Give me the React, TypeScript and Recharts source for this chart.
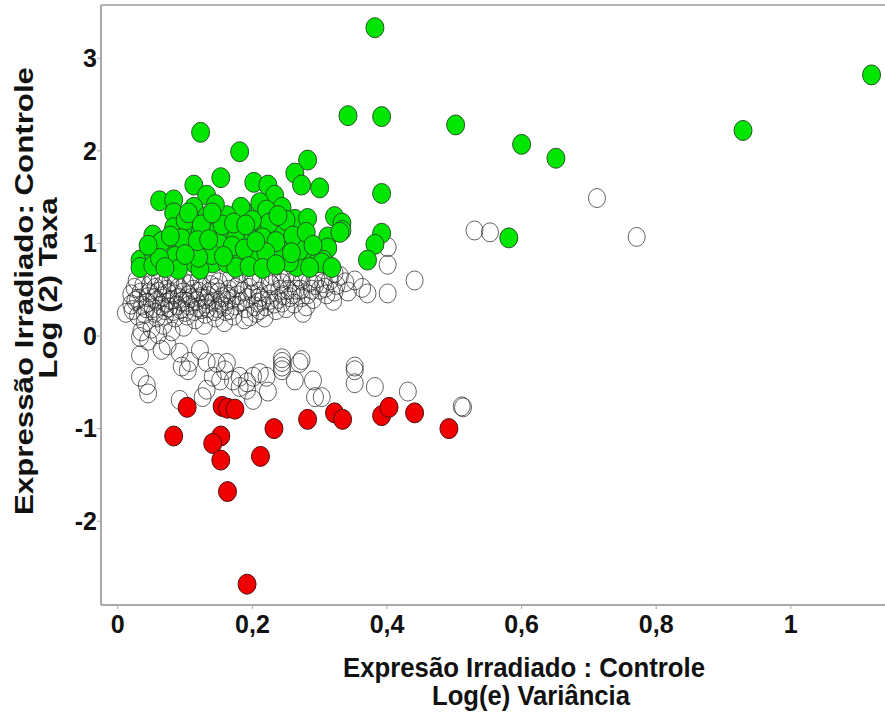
import { ScatterChart, Scatter, XAxis, YAxis, ReferenceLine, Label } from "recharts";

// tick positions
const xTicks = [0, 0.2, 0.4, 0.6, 0.8, 1];
const yTicks = [-2, -1, 0, 1, 2, 3];

// up-regulated (green), [log(e) variance, log2 ratio]
const upPoints: [number, number][] = [
  [0.382, 3.33], [1.12, 2.82], [0.342, 2.38], [0.392, 2.37], [0.502, 2.28], [0.929, 2.22],
  [0.123, 2.2], [0.6, 2.07], [0.651, 1.92], [0.181, 1.99], [0.282, 1.9], [0.263, 1.76],
  [0.273, 1.63], [0.3, 1.6], [0.392, 1.54], [0.581, 1.06], [0.153, 1.71], [0.113, 1.63],
  [0.392, 1.11], [0.382, 0.99], [0.371, 0.82], [0.202, 1.66], [0.223, 1.63], [0.233, 1.52],
  [0.244, 1.39], [0.211, 1.44], [0.186, 1.36], [0.221, 1.36], [0.263, 1.26], [0.282, 1.27],
  [0.322, 1.29], [0.333, 1.22], [0.333, 1.14], [0.312, 1.07], [0.312, 0.95], [0.305, 0.82],
  [0.23, 1.11], [0.201, 1.14], [0.192, 1.06], [0.211, 0.96], [0.244, 1.0], [0.244, 0.91],
  [0.267, 0.95], [0.273, 0.82], [0.285, 0.82], [0.296, 0.79], [0.226, 0.79], [0.201, 0.85],
  [0.184, 0.82], [0.266, 0.75], [0.132, 1.52], [0.062, 1.46], [0.083, 1.47], [0.113, 1.39],
  [0.083, 1.33], [0.132, 1.29], [0.183, 1.39], [0.162, 1.3], [0.052, 1.09], [0.083, 1.17],
  [0.103, 1.12], [0.122, 1.11], [0.144, 1.11], [0.162, 1.14], [0.192, 1.11], [0.033, 0.82],
  [0.052, 0.9], [0.073, 0.93], [0.092, 0.93], [0.113, 0.96], [0.132, 0.93], [0.162, 0.93],
  [0.073, 0.79], [0.092, 0.79], [0.113, 0.79], [0.141, 0.79], [0.162, 0.79], [0.181, 0.8],
  [0.033, 0.74], [0.052, 0.76], [0.122, 0.72], [0.27, 0.93], [0.303, 0.79], [0.241, 0.93],
  [0.207, 0.82], [0.245, 1.14], [0.33, 1.12], [0.1, 1.25], [0.145, 1.42], [0.065, 1.02],
  [0.095, 1.05], [0.15, 1.0], [0.175, 1.05], [0.085, 0.86], [0.14, 0.88], [0.225, 1.22],
  [0.25, 1.25], [0.2, 1.25], [0.12, 0.85], [0.175, 0.74], [0.255, 0.8], [0.09, 0.72],
  [0.105, 1.33], [0.124, 1.2], [0.155, 1.2], [0.172, 1.22], [0.14, 1.33], [0.118, 1.03],
  [0.135, 1.04], [0.17, 0.97], [0.188, 0.94], [0.215, 1.06], [0.235, 1.02], [0.26, 1.08],
  [0.28, 1.12], [0.29, 0.98], [0.258, 0.9], [0.22, 0.9], [0.195, 0.75], [0.215, 0.73],
  [0.235, 0.77], [0.1, 0.88], [0.062, 0.84], [0.045, 0.98], [0.078, 1.08], [0.157, 0.86],
  [0.285, 0.74], [0.318, 0.74], [0.205, 1.02], [0.238, 1.3], [0.19, 1.2], [0.07, 0.74],
];

// down-regulated (red)
const downPoints: [number, number][] = [
  [0.103, -0.77], [0.083, -1.08], [0.155, -0.76], [0.163, -0.78], [0.174, -0.79],
  [0.153, -1.08], [0.141, -1.16], [0.153, -1.34], [0.163, -1.68], [0.192, -2.68],
  [0.212, -1.3], [0.232, -1.0], [0.282, -0.9], [0.322, -0.83], [0.334, -0.9],
  [0.392, -0.86], [0.403, -0.77], [0.441, -0.83], [0.492, -1.0],
];

// not significant (hollow)
const flatPoints: [number, number][] = [
  [0.712, 1.49], [0.771, 1.07], [0.53, 1.14], [0.553, 1.12], [0.511, -0.76], [0.441, 0.6],
  [0.401, 0.96], [0.401, 0.77], [0.401, 0.46], [0.371, 0.46], [0.363, 0.52], [0.352, 0.6],
  [0.342, 0.48], [0.322, 0.48], [0.322, 0.68], [0.308, 0.52], [0.293, 0.55], [0.273, 0.6],
  [0.273, 0.42], [0.275, 0.25], [0.253, 0.68], [0.253, 0.5], [0.244, 0.57], [0.244, 0.36],
  [0.226, 0.57], [0.226, 0.39], [0.211, 0.42], [0.211, 0.28], [0.201, 0.6], [0.196, 0.21],
  [0.244, -0.24], [0.244, -0.33], [0.273, -0.26], [0.352, -0.33],
  [0.033, -0.01], [0.033, -0.21], [0.033, -0.44], [0.043, -0.53], [0.045, -0.62],
  [0.065, -0.15], [0.074, -0.1], [0.092, -0.18], [0.095, -0.33], [0.107, -0.28],
  [0.104, -0.37], [0.122, -0.15], [0.132, -0.28], [0.147, -0.29], [0.162, -0.29],
  [0.159, -0.37], [0.141, -0.44], [0.152, -0.48], [0.132, -0.58], [0.126, -0.66],
  [0.092, -0.69], [0.171, -0.48], [0.181, -0.44], [0.192, -0.5], [0.201, -0.44],
  [0.211, -0.4], [0.221, -0.44], [0.192, -0.58], [0.181, -0.55], [0.201, -0.69],
  [0.223, -0.6], [0.244, -0.28], [0.244, -0.37], [0.27, -0.29], [0.263, -0.48],
  [0.29, -0.48], [0.293, -0.66], [0.303, -0.66], [0.352, -0.37], [0.352, -0.51],
  [0.382, -0.55], [0.431, -0.6], [0.513, -0.77],
  [0.012, 0.25], [0.02, 0.34], [0.02, 0.45], [0.025, 0.52], [0.03, 0.22], [0.03, 0.4], [0.028, 0.6],
  [0.04, 0.15], [0.042, 0.3], [0.045, 0.42], [0.048, 0.55], [0.05, 0.65], [0.055, 0.25],
  [0.058, 0.38], [0.06, 0.48], [0.062, 0.6], [0.05, 0.08], [0.068, 0.12], [0.07, 0.28],
  [0.072, 0.36], [0.075, 0.46], [0.078, 0.58], [0.08, 0.67], [0.085, 0.2], [0.088, 0.33],
  [0.09, 0.41], [0.09, 0.52], [0.098, 0.1], [0.1, 0.26], [0.102, 0.37], [0.105, 0.44],
  [0.108, 0.56], [0.11, 0.65], [0.115, 0.18], [0.118, 0.31], [0.12, 0.48], [0.12, 0.6],
  [0.128, 0.12], [0.13, 0.24], [0.132, 0.35], [0.135, 0.43], [0.138, 0.55], [0.14, 0.66],
  [0.145, 0.2], [0.148, 0.3], [0.15, 0.47], [0.15, 0.58], [0.158, 0.15], [0.16, 0.27],
  [0.162, 0.38], [0.165, 0.5], [0.168, 0.62], [0.172, 0.22], [0.175, 0.33], [0.178, 0.44],
  [0.18, 0.56], [0.182, 0.68], [0.188, 0.18], [0.19, 0.3], [0.192, 0.41], [0.195, 0.52],
  [0.198, 0.64], [0.205, 0.25], [0.208, 0.36], [0.21, 0.48], [0.212, 0.6], [0.218, 0.2],
  [0.22, 0.32], [0.225, 0.45], [0.228, 0.55], [0.23, 0.66], [0.235, 0.28], [0.238, 0.4],
  [0.24, 0.5], [0.242, 0.62], [0.25, 0.3], [0.255, 0.42], [0.258, 0.58], [0.262, 0.35],
  [0.265, 0.5], [0.268, 0.64], [0.28, 0.32], [0.282, 0.45], [0.285, 0.58], [0.29, 0.4],
  [0.295, 0.62], [0.3, 0.5], [0.31, 0.45], [0.315, 0.6], [0.32, 0.38], [0.325, 0.55],
  [0.33, 0.65], [0.035, 0.05], [0.045, -0.05], [0.06, 0.02], [0.08, 0.05],
  [0.022, 0.28], [0.026, 0.38], [0.034, 0.47], [0.036, 0.33], [0.038, 0.55], [0.04, 0.24],
  [0.044, 0.36], [0.047, 0.47], [0.052, 0.3], [0.054, 0.41], [0.056, 0.52], [0.058, 0.2],
  [0.064, 0.33], [0.066, 0.43], [0.067, 0.55], [0.07, 0.22], [0.073, 0.5], [0.076, 0.31],
  [0.079, 0.39], [0.082, 0.27], [0.084, 0.45], [0.086, 0.56], [0.093, 0.29], [0.095, 0.37],
  [0.097, 0.47], [0.1, 0.57], [0.103, 0.22], [0.106, 0.33], [0.109, 0.41], [0.112, 0.5],
  [0.114, 0.27], [0.117, 0.38], [0.122, 0.42], [0.124, 0.29], [0.126, 0.53], [0.13, 0.4],
  [0.133, 0.3], [0.137, 0.48], [0.142, 0.37], [0.144, 0.27], [0.146, 0.52], [0.152, 0.36],
  [0.155, 0.42], [0.158, 0.32], [0.163, 0.45], [0.167, 0.28], [0.17, 0.4], [0.175, 0.52],
  [0.183, 0.37], [0.186, 0.48], [0.2, 0.45], [0.203, 0.32], [0.215, 0.38], [0.232, 0.35],
  [0.246, 0.44], [0.26, 0.45], [0.272, 0.5], [0.288, 0.5], [0.305, 0.57], [0.338, 0.58],
];

const toRows = (pts: [number, number][]) => pts.map(([x, y]) => ({ x, y }));

const font = "'Liberation Sans', Arial, sans-serif";
const axisGray = "#a8a8a8";
const tickStyle = { fontSize: 25, fontWeight: 700, fill: "#111", fontFamily: font };

const dot = (fill: string, stroke: string, opacity = 1, rx = 9, ry = 10) => (props: any) => (
  <ellipse
    cx={props.cx}
    cy={props.cy}
    rx={rx}
    ry={ry}
    fill={fill}
    stroke={stroke}
    strokeWidth={1}
    strokeOpacity={opacity}
  />
);

const fmt = (v: number) => String(v).replace(".", ",");

export default function App() {
  return (
    <div style={{ position: "absolute", left: 0, top: 0, background: "#fff" }}>
      <ScatterChart width={885} height={713} margin={{ top: 5, right: 0, bottom: 0, left: 0 }}>
        <XAxis
          type="number"
          dataKey="x"
          domain={[-0.025, 1.14]}
          ticks={xTicks}
          interval={0}
          allowDataOverflow
          height={108}
          tickFormatter={fmt}
          axisLine={{ stroke: axisGray, strokeWidth: 2 }}
          tickLine={{ stroke: axisGray }}
          tickSize={4}
          tickMargin={6}
          tick={tickStyle}
        >
          <Label
            content={() => (
              <g fontFamily={font} fontWeight={700} fill="#111" fontSize={28}>
                <text x={524} y={677} textAnchor="middle" textLength={362} lengthAdjust="spacingAndGlyphs">
                  Expresão Irradiado : Controle
                </text>
                <text x={531} y={705} textAnchor="middle" textLength={198} lengthAdjust="spacingAndGlyphs">
                  Log(e) Variância
                </text>
              </g>
            )}
          />
        </XAxis>
        <YAxis
          type="number"
          dataKey="y"
          domain={[-2.905, 3.575]}
          ticks={yTicks}
          interval={0}
          allowDataOverflow
          width={101}
          tickFormatter={fmt}
          axisLine={{ stroke: axisGray, strokeWidth: 2 }}
          tickLine={{ stroke: axisGray }}
          tickSize={4}
          tickMargin={0}
          tick={tickStyle}
        >
          <Label
            content={() => (
              <g fontFamily={font} fontWeight={700} fill="#111" fontSize={26}>
                <text
                  x={33}
                  y={291}
                  transform="rotate(-90 33 291)"
                  textAnchor="middle"
                  textLength={448}
                  lengthAdjust="spacingAndGlyphs"
                >
                  Expressão Irradiado: Controle
                </text>
                <text
                  x={57}
                  y={288}
                  transform="rotate(-90 57 288)"
                  textAnchor="middle"
                  textLength={181}
                  lengthAdjust="spacingAndGlyphs"
                >
                  Log (2) Taxa
                </text>
              </g>
            )}
          />
        </YAxis>
        <ReferenceLine y={3.575} stroke="#b4b4b4" strokeWidth={2} />
        <Scatter data={toRows(flatPoints)} shape={dot("none", "#222", 0.7, 8.5, 9.5)} isAnimationActive={false} />
        <Scatter data={toRows(upPoints)} shape={dot("#00e600", "#2a552a")} isAnimationActive={false} />
        <Scatter data={toRows(downPoints)} shape={dot("#f00000", "#501010")} isAnimationActive={false} />
      </ScatterChart>
    </div>
  );
}
